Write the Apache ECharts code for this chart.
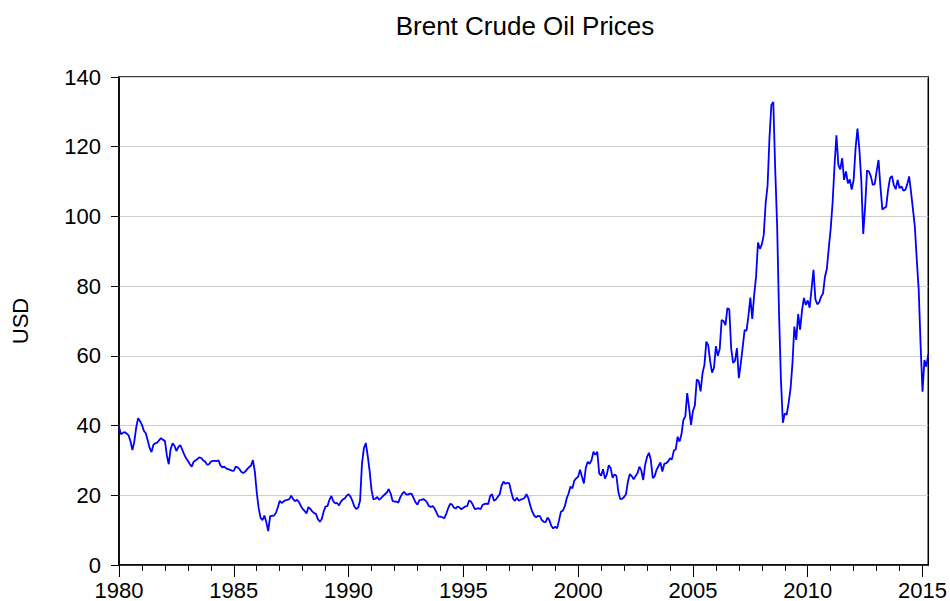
<!DOCTYPE html>
<html>
<head>
<meta charset="utf-8">
<title>Brent Crude Oil Prices</title>
<script src="https://cdn.jsdelivr.net/npm/echarts@6/dist/echarts.min.js"></script>
<style>
  html, body { margin: 0; padding: 0; background: #fff; }
  #chart-container { width: 950px; height: 601px; }
</style>
</head>
<body>
<div id="chart-container"></div>
<script>
// Brent crude, monthly average in USD, first value is 1980-01
const startYear = 1980;

const prices1980s = [
  39.7, 37.5, 37.9, 38.1, 37.7, 37.2, 35.5, 33.0, 35.4, 39.5, 42.1, 41.3, // 1980
  40.2, 38.5, 37.8, 35.8, 33.6, 32.4, 34.5, 34.9, 35.1, 35.8, 36.4, 35.9, // 1981
  35.6, 31.5, 28.9, 33.3, 34.9, 34.2, 32.7, 33.8, 34.4, 33.2, 31.8, 30.7, // 1982
  29.9, 29.0, 28.2, 29.6, 30.0, 30.4, 30.9, 30.7, 30.0, 29.7, 28.8, 28.9, // 1983
  29.6, 29.9, 29.9, 29.8, 30.0, 28.6, 28.0, 28.2, 27.7, 27.5, 27.3, 27.1, // 1984
  27.0, 28.2, 28.0, 27.5, 26.7, 26.4, 26.8, 27.5, 28.1, 28.5, 30.1, 26.8, // 1985
  20.8, 16.3, 13.5, 12.9, 14.2, 12.3, 9.7, 14.0, 14.1, 14.2, 14.9, 16.5,  // 1986
  18.4, 17.8, 18.2, 18.6, 18.7, 18.9, 19.9, 18.9, 18.3, 18.7, 18.1, 17.0, // 1987
  16.1, 15.5, 14.8, 16.6, 16.1, 15.4, 14.9, 14.6, 13.1, 12.4, 13.2, 15.4, // 1988
  16.8, 16.9, 18.7, 19.8, 18.3, 17.7, 17.8, 17.1, 18.2, 18.8, 19.1, 19.9  // 1989
];

const prices1990s = [
  20.3, 19.6, 18.4, 16.8, 16.1, 16.4, 18.4, 29.0, 33.5, 35.0, 31.3, 27.0, // 1990
  21.5, 18.8, 19.0, 19.5, 18.7, 19.2, 19.8, 20.3, 20.8, 21.8, 20.5, 18.4, // 1991
  18.2, 18.2, 17.9, 19.4, 20.4, 21.0, 20.3, 20.2, 20.5, 20.4, 19.2, 18.0, // 1992
  17.3, 18.6, 18.7, 18.9, 18.6, 18.0, 16.9, 16.7, 16.9, 16.2, 15.0, 13.9, // 1993
  13.9, 13.7, 13.4, 14.6, 16.2, 17.5, 17.4, 16.5, 16.2, 16.8, 16.5, 16.0, // 1994
  16.4, 16.8, 16.9, 18.5, 18.2, 17.2, 16.0, 16.2, 16.3, 16.0, 17.2, 17.5, // 1995
  17.6, 17.5, 19.8, 20.3, 18.4, 18.8, 19.6, 20.3, 22.8, 23.9, 23.3, 23.6, // 1996
  23.4, 21.0, 19.0, 18.4, 19.3, 18.4, 18.8, 18.9, 19.3, 20.3, 19.1, 17.0, // 1997
  15.3, 14.2, 13.7, 14.1, 14.0, 12.9, 12.4, 12.3, 13.6, 12.8, 11.2, 10.5, // 1998
  11.0, 10.5, 12.8, 15.3, 15.6, 16.8, 19.1, 20.5, 22.5, 22.0, 24.2, 24.9  // 1999
];

const prices2000s = [
  25.3, 27.3, 25.3, 23.4, 27.9, 29.6, 29.0, 30.1, 32.5, 31.6, 32.5, 26.3, // 2000
  25.6, 27.5, 24.8, 26.0, 28.6, 27.8, 25.0, 26.0, 25.6, 21.0, 18.9, 19.0, // 2001
  19.5, 20.3, 23.9, 26.1, 25.5, 24.6, 25.5, 26.3, 28.2, 27.1, 24.4, 28.7, // 2002
  31.0, 32.2, 30.1, 24.9, 25.5, 27.3, 28.4, 29.4, 26.8, 29.0, 29.2, 29.7, // 2003
  30.6, 30.3, 32.8, 33.2, 36.8, 35.4, 37.5, 41.6, 42.6, 49.3, 45.0, 40.2, // 2004
  44.2, 45.8, 53.2, 52.8, 49.8, 55.0, 57.4, 64.1, 63.0, 58.4, 55.2, 56.6, // 2005
  62.8, 60.0, 62.0, 70.3, 70.0, 68.8, 73.7, 73.3, 62.0, 58.0, 58.6, 62.2, // 2006
  53.6, 57.8, 62.5, 67.4, 67.2, 71.5, 76.7, 70.6, 77.5, 82.8, 92.5, 90.7, // 2007
  92.0, 94.7, 103.8, 108.8, 122.5, 132.0, 132.8, 113.5, 97.5, 72.0, 53.0, 40.8, // 2008
  43.5, 43.1, 46.5, 50.5, 57.7, 68.4, 64.6, 72.0, 67.5, 73.0, 76.6, 74.6  // 2009
];

const prices2010s = [
  75.9, 73.8, 79.2, 84.7, 76.2, 74.8, 75.4, 77.0, 77.9, 82.7, 85.0, 91.0, // 2010
  96.5, 104.0, 114.5, 123.3, 114.8, 113.5, 116.7, 110.5, 112.9, 109.5, 110.6, 107.7, // 2011
  110.5, 119.5, 125.2, 119.2, 110.2, 95.0, 102.8, 113.2, 112.9, 111.5, 109.0, 109.3, // 2012
  112.9, 116.2, 108.5, 102.0, 102.4, 102.8, 107.6, 111.0, 111.6, 109.0, 107.8, 110.5, // 2013
  108.1, 108.6, 107.4, 107.6, 109.2, 111.5, 107.0, 102.0, 97.0, 87.5, 79.0, 63.0, // 2014
  49.7, 58.8, 56.9, 60.5 // 2015
];

const yearLabels = [1980, 1985, 1990, 1995, 2000, 2005, 2010, 2015];
const yTicks = [0, 20, 40, 60, 80, 100, 120, 140];

const prices = prices1980s.concat(prices1990s, prices2000s, prices2010s);

// one category per month
const months = prices.map((_, i) => {
  const y = startYear + Math.floor(i / 12);
  const m = (i % 12) + 1;
  return y + "-" + (m < 10 ? "0" + m : m);
});

const isJanuary = (i) => i % 12 === 0;
const isLabelYear = (i) =>
  isJanuary(i) && yearLabels.indexOf(startYear + i / 12) !== -1;

const fontFamily = "'Liberation Sans', Arial, sans-serif";

let option = {
  animation: false,
  backgroundColor: "#ffffff",
  title: {
    text: "Brent Crude Oil Prices",
    left: 525,
    top: 13,
    textAlign: "center",
    padding: 0,
    textStyle: {
      color: "#000",
      fontSize: 26,
      fontWeight: "normal",
      fontFamily: fontFamily,
    },
  },
  grid: {
    left: 119,
    right: 20,
    top: 77,
    bottom: 36,
    show: true,
    borderColor: "#000",
    borderWidth: 1.5,
    containLabel: false,
  },
  xAxis: [
    {
      type: "category",
      data: months,
      boundaryGap: false,
      axisLine: { lineStyle: { color: "#000", width: 1.5 } },
      axisTick: {
        interval: (i) => isLabelYear(i),
        length: 12,
        lineStyle: { color: "#000", width: 1 },
      },
      axisLabel: {
        interval: (i) => isLabelYear(i),
        formatter: (v) => v.slice(0, 4),
        color: "#000",
        fontSize: 22,
        fontFamily: fontFamily,
        margin: 14,
      },
      splitLine: { show: false },
    },
    {
      // short ticks at every year
      type: "category",
      data: months,
      boundaryGap: false,
      position: "bottom",
      axisLine: { show: false },
      axisTick: {
        interval: (i) => isJanuary(i),
        length: 6,
        lineStyle: { color: "#000", width: 1 },
      },
      axisLabel: { show: false },
      splitLine: { show: false },
    },
  ],
  yAxis: {
    type: "value",
    min: yTicks[0],
    max: yTicks[yTicks.length - 1],
    interval: yTicks[1] - yTicks[0],
    name: "USD",
    nameLocation: "middle",
    nameRotate: 90,
    nameGap: 88,
    nameTextStyle: { color: "#000", fontSize: 22, fontFamily: fontFamily },
    axisLine: { show: true, lineStyle: { color: "#000", width: 1.5 } },
    axisTick: { show: true, length: 8, lineStyle: { color: "#000", width: 1 } },
    axisLabel: {
      color: "#000",
      fontSize: 22,
      fontFamily: fontFamily,
      margin: 18,
    },
    splitLine: { show: true, lineStyle: { color: "#cfcfcf", width: 1 } },
  },
  series: [
    {
      name: "Brent",
      type: "line",
      xAxisIndex: 0,
      data: prices,
      showSymbol: false,
      symbol: "none",
      smooth: false,
      lineStyle: { color: "#0000ff", width: 1.8 },
    },
  ],
};

const paintChart = () => {
  let dom = document.getElementById("chart-container");
  let myChart = echarts.init(dom, null, { renderer: "svg" });
  myChart.setOption(option);
  window.addEventListener("resize", () => myChart.resize());
};
paintChart();
</script>
</body>
</html>
